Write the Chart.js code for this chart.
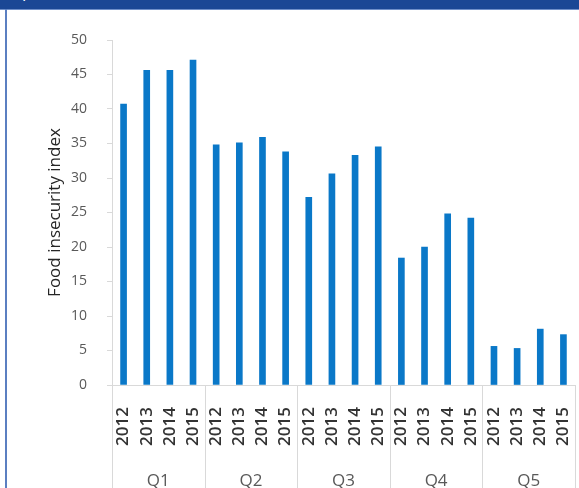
<!DOCTYPE html>
<html lang="en">
<head>
  <meta charset="UTF-8" />
  <title>Food insecurity index by quintile</title>
  <style>
    html, body { margin: 0; padding: 0; background: #fff; overflow: hidden; }
    .frame { position: relative; width: 579px; height: 488px; }
    .frame canvas { position: absolute; left: 0; top: 0; }
    .header {
      position: absolute; left: 0; top: 0; width: 579px; height: 9px;
      background: #1b4795; border-bottom: 1px solid #6f8fc9; overflow: hidden; z-index: 2;
    }
    .header span {
      position: absolute; left: 17px; top: -21px;
      font: 17px "Open Sans", sans-serif; color: #fff; white-space: nowrap;
    }
    .side {
      position: absolute; left: 5px; top: 9px; width: 2px; height: 479px;
      background: #5b7fc1; z-index: 2;
    }
  </style>
</head>
<body>
  <div class="frame">
    <div class="header"><span>(per cent)</span></div>
    <div class="side"></div>
    <canvas id="chart" width="579" height="488"></canvas>
  </div>

  <script src="https://cdn.jsdelivr.net/npm/chart.js"></script>
  <script>
    // data
    const years = ['2012', '2013', '2014', '2015'];
    const groups = ['Q1', 'Q2', 'Q3', 'Q4', 'Q5'];
    const q1 = [40.7, 45.6, 45.6, 47.1];
    const q2 = [34.8, 35.1, 35.9, 33.8];
    const q3 = [27.2, 30.6, 33.3, 34.5];
    const q4 = [18.4, 20.0, 24.8, 24.2];
    const q5 = [5.6, 5.3, 8.1, 7.3];
    const yTicks = [0, 5, 10, 15, 20, 25, 30, 35, 40, 45, 50];

    const labels = groups.flatMap(() => years);
    const values = [...q1, ...q2, ...q3, ...q4, ...q5];

    // vertical separators between the quintile groups, below the axis
    const groupLines = {
      id: 'groupLines',
      afterDraw(chart) {
        const x = chart.scales.x;
        const ctx = chart.ctx;
        const step = x.getPixelForValue(1) - x.getPixelForValue(0);
        ctx.save();
        ctx.strokeStyle = '#d9d9d9';
        ctx.lineWidth = 1;
        for (let k = 0; k <= groups.length; k++) {
          const px = Math.round(x.getPixelForValue(k * years.length) - step / 2) + 0.5;
          ctx.beginPath();
          ctx.moveTo(px, chart.chartArea.bottom);
          ctx.lineTo(px, chart.height);
          ctx.stroke();
        }
        ctx.restore();
      }
    };

    const noSidePad = (s) => { s.paddingLeft = 0; s.paddingRight = 0; };

    new Chart(document.getElementById('chart'), {
      type: 'bar',
      data: {
        labels: labels,
        datasets: [{
          data: values,
          backgroundColor: '#0a78c8',
          borderWidth: 0,
          barThickness: 6
        }]
      },
      options: {
        responsive: false,
        animation: false,
        layout: { padding: { top: 40, left: 0, right: 4, bottom: 0 } },
        plugins: { legend: { display: false }, tooltip: { enabled: false } },
        scales: {
          y: {
            min: 0,
            max: 50,
            afterBuildTicks: (s) => { s.ticks = yTicks.map(v => ({ value: v })); },
            afterFit: (s) => { s.width = 112; },
            grid: { drawOnChartArea: false, tickLength: 5, color: '#d9d9d9' },
            border: { color: '#d9d9d9' },
            ticks: {
              padding: 20,
              color: '#595959',
              font: { family: 'Open Sans', size: 14 }
            },
            title: {
              display: true,
              text: 'Food insecurity index',
              color: '#262626',
              padding: { top: 45, bottom: 0 },
              font: { family: 'Open Sans', size: 17 }
            }
          },
          x: {
            offset: true,
            afterFit: (s) => { s.height = 72; noSidePad(s); },
            grid: { display: false },
            border: { color: '#d9d9d9' },
            ticks: {
              autoSkip: false,
              minRotation: 90,
              maxRotation: 90,
              padding: 14,
              color: '#333333',
              font: { family: 'Open Sans', size: 17, weight: '600' }
            }
          },
          x2: {
            type: 'category',
            labels: groups,
            position: 'bottom',
            offset: true,
            afterFit: (s) => { s.height = 31; noSidePad(s); },
            grid: { display: false },
            border: { display: false },
            ticks: {
              padding: 6,
              color: '#595959',
              font: { family: 'Open Sans', size: 17 }
            }
          }
        }
      },
      plugins: [groupLines]
    });
  </script>
</body>
</html>
